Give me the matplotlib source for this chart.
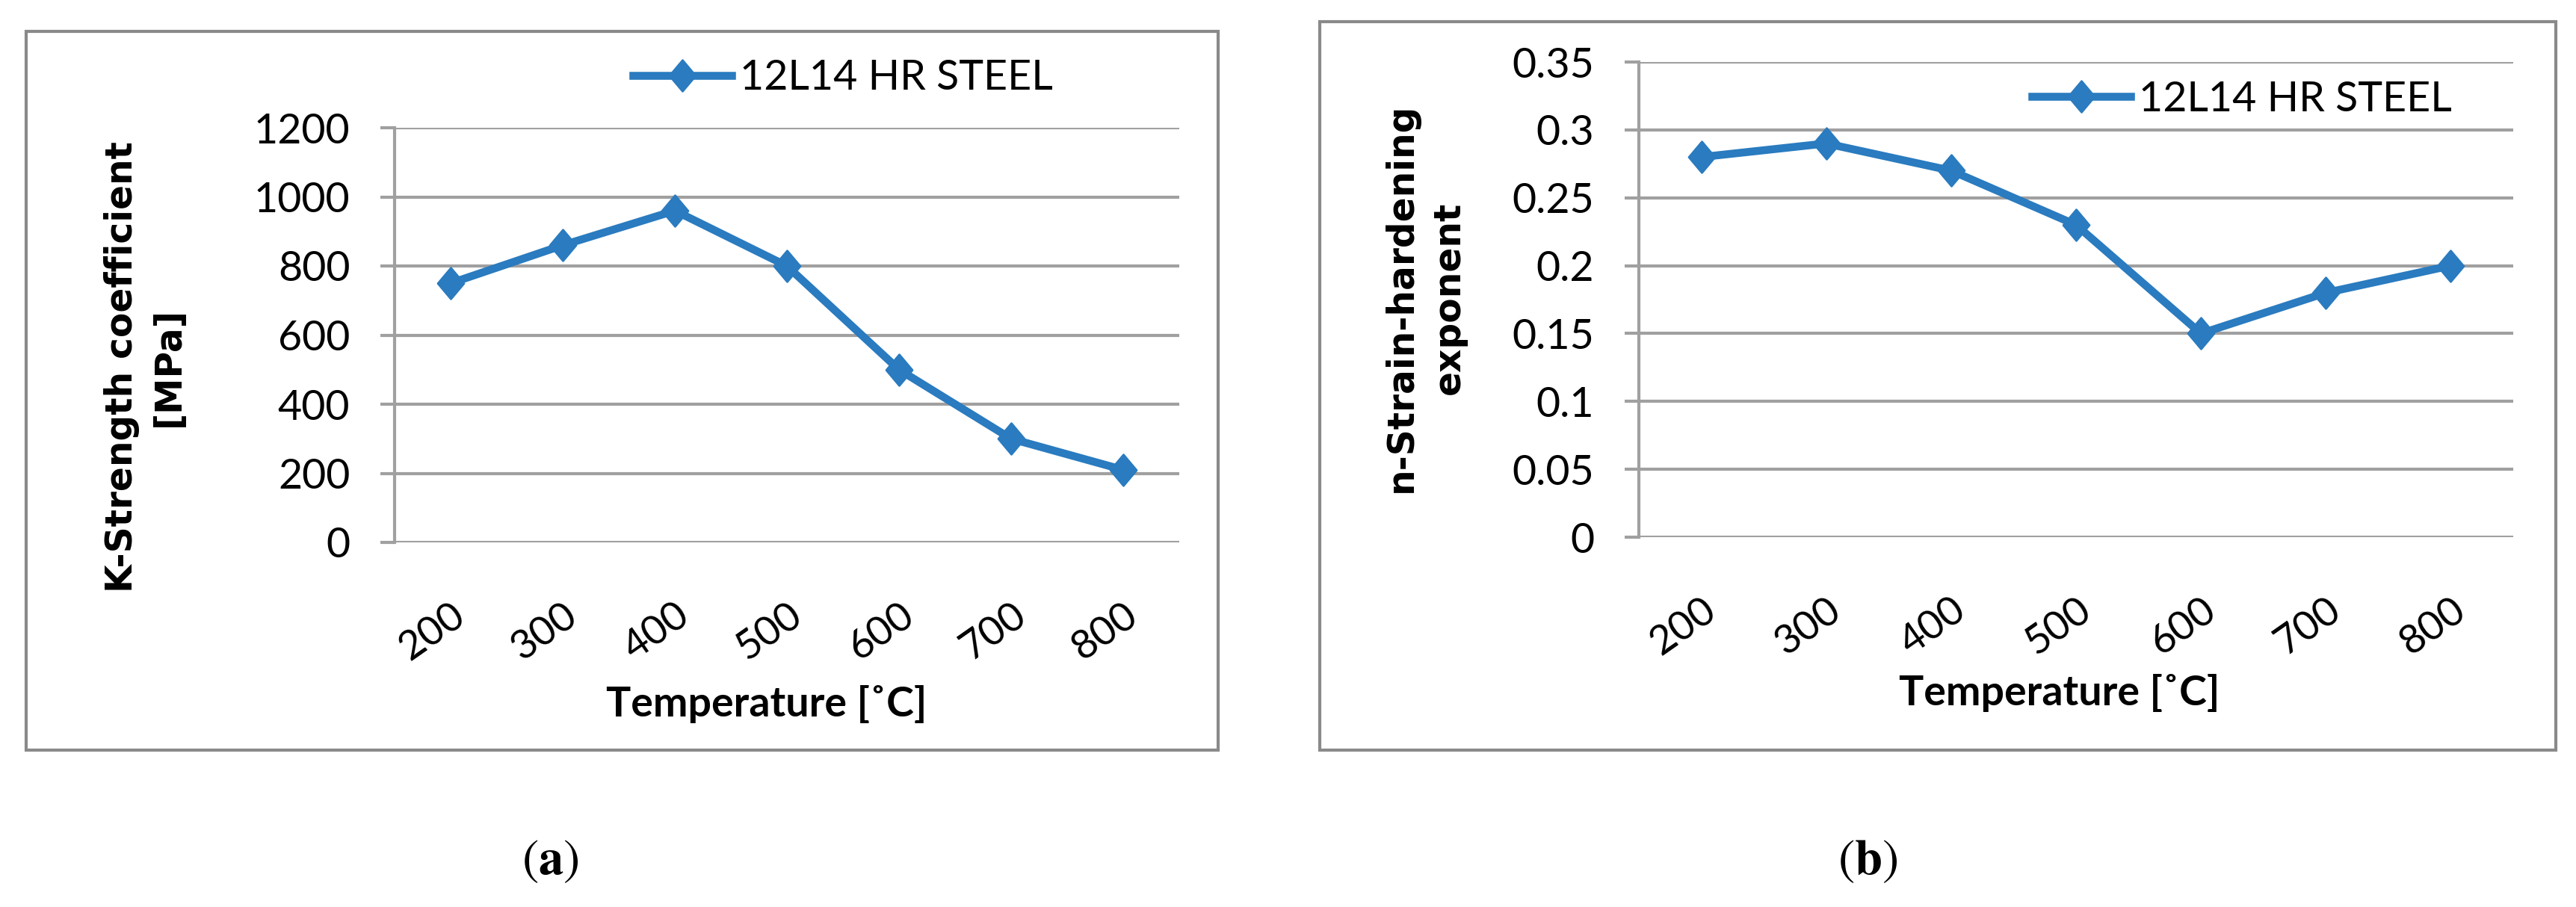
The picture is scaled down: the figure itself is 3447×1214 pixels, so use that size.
import matplotlib.pyplot as plt
from matplotlib.patches import Rectangle
from matplotlib.path import Path

# data
temps = ["200", "300", "400", "500", "600", "700", "800"]
k_strength = [750, 860, 960, 800, 500, 300, 210]
n_exponent = [0.28, 0.29, 0.27, 0.23, 0.15, 0.18, 0.20]
k_ticks = [0, 200, 400, 600, 800, 1000, 1200]
n_ticks = [0, 0.05, 0.1, 0.15, 0.2, 0.25, 0.3, 0.35]
n_tick_labels = ["0", "0.05", "0.1", "0.15", "0.2", "0.25", "0.3", "0.35"]
series_name = "12L14 HR STEEL"

W, H = 3448, 1214
blue = "#2A7BBF"
grid_gray = "#A0A0A0"
tick_font = ["Lato", "DejaVu Sans"]
label_font = ["DejaVu Sans"]
plt.rcParams["mathtext.fontset"] = "stix"

# Excel-style diamond, a bit taller than wide
diamond = Path([(0, 1), (0.84, 0), (0, -1), (-0.84, 0), (0, 1)],
               [Path.MOVETO, Path.LINETO, Path.LINETO, Path.LINETO,
                Path.CLOSEPOLY])

fig = plt.figure(figsize=(W / 200, H / 200), dpi=200)


def px(x0, y0, x1, y1):
    # pixel box -> figure fraction rect
    return [x0 / W, 1 - y1 / H, (x1 - x0) / W, (y1 - y0) / H]


def frame(x0, y0, x1, y1):
    r = Rectangle((x0 / W, 1 - y1 / H), (x1 - x0) / W, (y1 - y0) / H,
                  transform=fig.transFigure, fill=False, edgecolor="#8A8A8A",
                  linewidth=1.5)
    fig.patches.append(r)


def style_axes(ax, values, ticks, tick_labels, ylabel, ylabel_xy, xlabel_xy):
    x = list(range(len(temps)))
    ax.plot(x, values, color=blue, linewidth=3.8, marker=diamond,
            markersize=15, label=series_name, solid_joinstyle="round")
    ax.set_xlim(-0.5, len(temps) - 0.5)
    ax.set_ylim(ticks[0], ticks[-1])
    ax.set_yticks(ticks)
    ax.set_yticklabels(tick_labels, fontsize=20, family=tick_font)
    ax.set_xticks(x)
    ax.set_xticklabels(temps, fontsize=19.5, family=tick_font, rotation=35,
                       ha="right", va="top", rotation_mode="anchor")
    ax.tick_params(axis="x", length=0, pad=26)
    ax.tick_params(axis="y", length=7, width=1.5, color=grid_gray, pad=14.5)
    ax.grid(axis="y", color=grid_gray, linewidth=1.5)
    ax.set_axisbelow(True)
    for s in ["top", "right", "bottom"]:
        ax.spines[s].set_visible(False)
    ax.spines["left"].set_color(grid_gray)
    ax.spines["left"].set_linewidth(1.5)
    ax.set_xlabel("Temperature [˚C]", fontsize=20, fontweight="bold",
                  family=tick_font, va="baseline")
    ax.xaxis.set_label_coords(*xlabel_xy)
    ax.set_ylabel(ylabel, fontsize=17.5, fontweight="bold", family=label_font,
                  linespacing=1.4)
    ax.yaxis.set_label_coords(*ylabel_xy)
    ax.legend(loc="center left", frameon=False,
              prop={"family": tick_font, "size": 20},
              handlelength=2.37, handletextpad=0.2, borderaxespad=0,
              borderpad=0)


# panel (a)
frame(35, 42, 1630, 1004)
ax1 = fig.add_axes(px(528, 171, 1578, 726))
style_axes(ax1, k_strength, k_ticks, [str(t) for t in k_ticks],
           "K-Strength coefficient\n[MPa]", (-0.265, 0.423), (0.474, -0.42))
ax1.get_legend().set_bbox_to_anchor((0.304, 1.119))

# panel (b)
frame(1766, 29, 3420, 1004)
ax2 = fig.add_axes(px(2193, 83, 3363, 719))
style_axes(ax2, n_exponent, n_ticks, n_tick_labels,
           "n-Strain-hardening\nexponent", (-0.197, 0.504), (0.481, -0.353))
ax2.get_legend().set_bbox_to_anchor((0.450, 0.921))

fig.text(736 / W, 1 - 1154 / H, r"($\mathbf{a}$)", fontsize=24,
         family="STIXGeneral", ha="center", va="center")
fig.text(2499 / W, 1 - 1154 / H, r"($\mathbf{b}$)", fontsize=24,
         family="STIXGeneral", ha="center", va="center")

fig.savefig("out.png", dpi=200)
